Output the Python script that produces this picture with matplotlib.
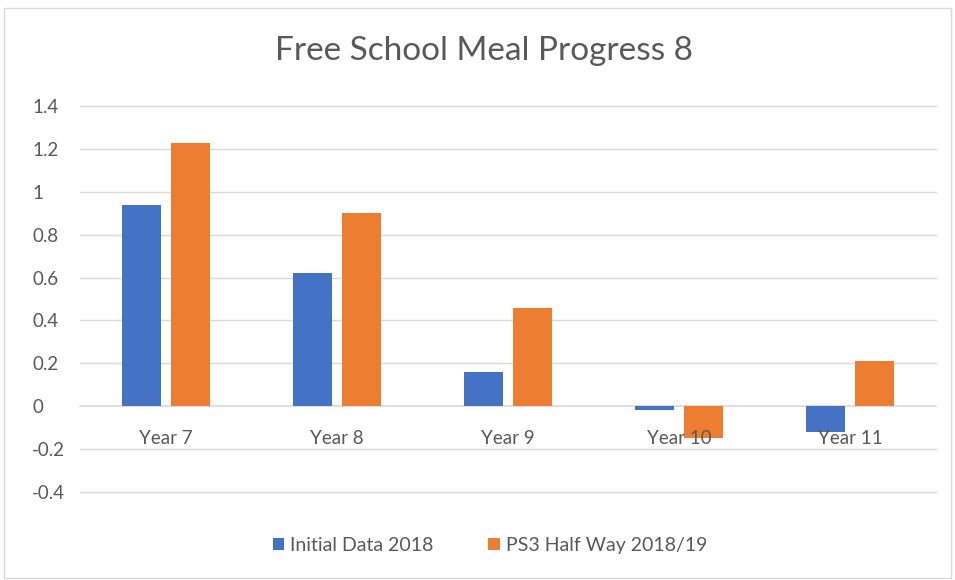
import matplotlib
matplotlib.use("Agg")
import matplotlib.pyplot as plt
import numpy as np
from matplotlib.patches import Rectangle

categories = ["Year 7", "Year 8", "Year 9", "Year 10", "Year 11"]
initial_2018 = [0.94, 0.62, 0.16, -0.02, -0.12]
ps3_half_way = [1.23, 0.90, 0.46, -0.15, 0.21]
y_ticks = [-0.4, -0.2, 0, 0.2, 0.4, 0.6, 0.8, 1, 1.2, 1.4]

blue = "#4472c4"
orange = "#ed7d31"
txt = "#595959"
grid = "#d9d9d9"

plt.rcParams['font.family'] = ['Lato', 'DejaVu Sans']

fig = plt.figure(figsize=(9.55, 5.8), dpi=100)
ax = fig.add_axes([0.084, 0.152, 0.896, 0.665])

x = np.arange(len(categories))
w = 0.228
off = 0.143
ax.bar(x - off, initial_2018, w, color=blue, label="Initial Data 2018", zorder=2)
ax.bar(x + off, ps3_half_way, w, color=orange, label="PS3 Half Way 2018/19", zorder=2)

ax.set_xlim(-0.5, len(categories) - 0.5)
ax.set_ylim(-0.4, 1.4)
ax.set_yticks(y_ticks)
ax.set_yticklabels(["%g" % t for t in y_ticks])
for t in y_ticks:
    ax.axhline(t, color=grid, linewidth=1.2 if t == 0 else 1, zorder=1, clip_on=False)
ax.set_xticks([])

for s in ['top', 'bottom', 'left', 'right']:
    ax.spines[s].set_visible(False)
ax.yaxis.set_ticks_position('none')
ax.tick_params(axis='y', labelsize=13.5, labelcolor=txt, pad=31)
for lab in ax.get_yticklabels():
    lab.set_horizontalalignment('left')

# category labels sit just under the zero line, over the bars
for i, c in enumerate(categories):
    ax.text(i, -0.15, c, ha='center', va='center', fontsize=13.5, color=txt, zorder=3)

fig.text(0.507, 0.912, "Free School Meal Progress 8", ha='center', va='center',
         fontsize=24, color=txt)

leg = fig.legend(loc='center', bbox_to_anchor=(0.513, 0.06), ncol=2, frameon=False,
                 fontsize=14, handlelength=0.6, handleheight=0.6, columnspacing=2.8,
                 handletextpad=0.3)
for t in leg.get_texts():
    t.set_color(txt)

fig.patches.append(Rectangle((0.004, 0.003), 0.992, 0.983, transform=fig.transFigure,
                             fill=False, edgecolor=grid, linewidth=1))

fig.savefig("out.png", dpi=100)
